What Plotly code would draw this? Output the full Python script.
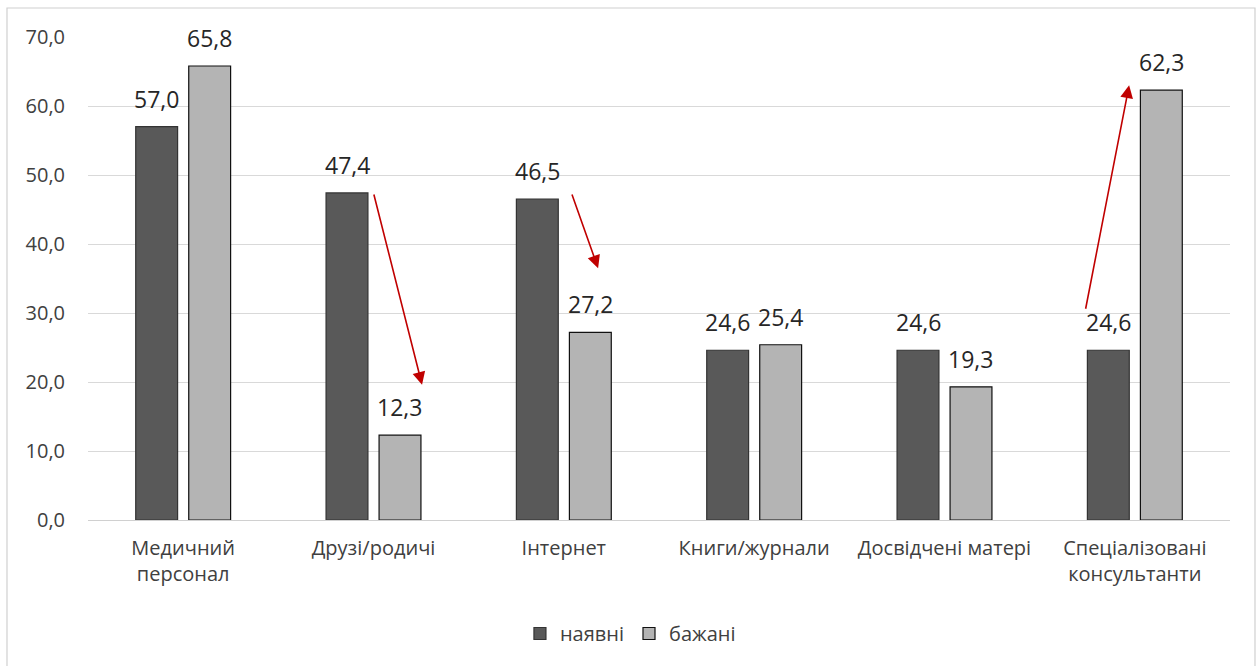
import plotly.graph_objects as go

categories = ["Медичний<br>персонал", "Друзі/родичі", "Інтернет",
              "Книги/журнали", "Досвідчені матері", "Спеціалізовані<br>консультанти"]
current = [57.0, 47.4, 46.5, 24.6, 24.6, 24.6]
desired = [65.8, 12.3, 27.2, 25.4, 19.3, 62.3]
series_names = ["наявні", "бажані"]
y_ticks = [0, 10, 20, 30, 40, 50, 60, 70]

# arrows: (x_tail, y_tail, x_head, y_head) in category-index / value units
arrows = [
    (1.00, 47.4, 1.255, 19.6),
    (2.04, 47.4, 2.18, 36.5),
    (4.74, 30.4, 4.97, 63.0),
]

W, H = 1256, 666
L, R, T, B = 88, 26, 37, 146
PH = H - T - B
PW = W - L - R
FONT = "Open Sans"

fig = go.Figure()
fig.add_bar(x=list(range(len(categories))), y=current, name=series_names[0],
            marker=dict(color="#595959", line=dict(color="#333333", width=1.2)))
fig.add_bar(x=list(range(len(categories))), y=desired, name=series_names[1],
            marker=dict(color="#b4b4b4", line=dict(color="#111111", width=1.2)))

# value labels above each bar
n = len(categories)
offs = [-0.139, 0.139]
for s, vals in enumerate([current, desired]):
    for i, v in enumerate(vals):
        fig.add_annotation(x=i + offs[s], y=v, text=f"{v:.1f}".replace(".", ","),
                           showarrow=False, yanchor="middle", yshift=28,
                           font=dict(family=FONT, size=23, color="#262626"))

for xt, yt, xh, yh in arrows:
    fig.add_annotation(x=xh, y=yh, ax=xt, ay=yt, xref="x", yref="y",
                       axref="x", ayref="y", text="", showarrow=True,
                       arrowhead=2, arrowsize=1.6, arrowwidth=1.6,
                       arrowcolor="#c00000")

# outer chart frame
fig.add_shape(type="rect", xref="paper", yref="paper",
              x0=(7 - L) / PW, x1=(1255 - L) / PW,
              y0=1 - (672 - T) / PH, y1=1 + (T - 8) / PH,
              line=dict(color="#d0d0d0", width=1.2), layer="below")

fig.update_layout(
    width=W, height=H,
    margin=dict(l=L, r=R, t=T, b=B, pad=0),
    paper_bgcolor="white", plot_bgcolor="white",
    separators=", ",
    barmode="group", bargap=0.443, bargroupgap=0.21,
    font=dict(family=FONT, size=20, color="#404040"),
    xaxis=dict(tickmode="array", tickvals=list(range(n)), ticktext=categories,
               range=[-0.5, n - 0.5], showgrid=False, showline=True,
               linecolor="#d0d0d0", linewidth=1, ticks="", ticklabelstandoff=10,
               tickfont=dict(family=FONT, size=20, color="#404040")),
    yaxis=dict(range=[0, 70], tickvals=y_ticks, tickformat=".1f",
               showgrid=True, gridcolor="#d9d9d9", gridwidth=1,
               zeroline=False, showline=False, ticks="", ticklabelstandoff=22,
               tickfont=dict(family=FONT, size=20, color="#404040")),
    legend=dict(orientation="h", x=0.475, xanchor="center", y=-0.235,
                yanchor="middle", font=dict(family=FONT, size=20, color="#404040"),
                itemwidth=30, traceorder="normal"),
    showlegend=True,
)

fig.write_html("out.html")
